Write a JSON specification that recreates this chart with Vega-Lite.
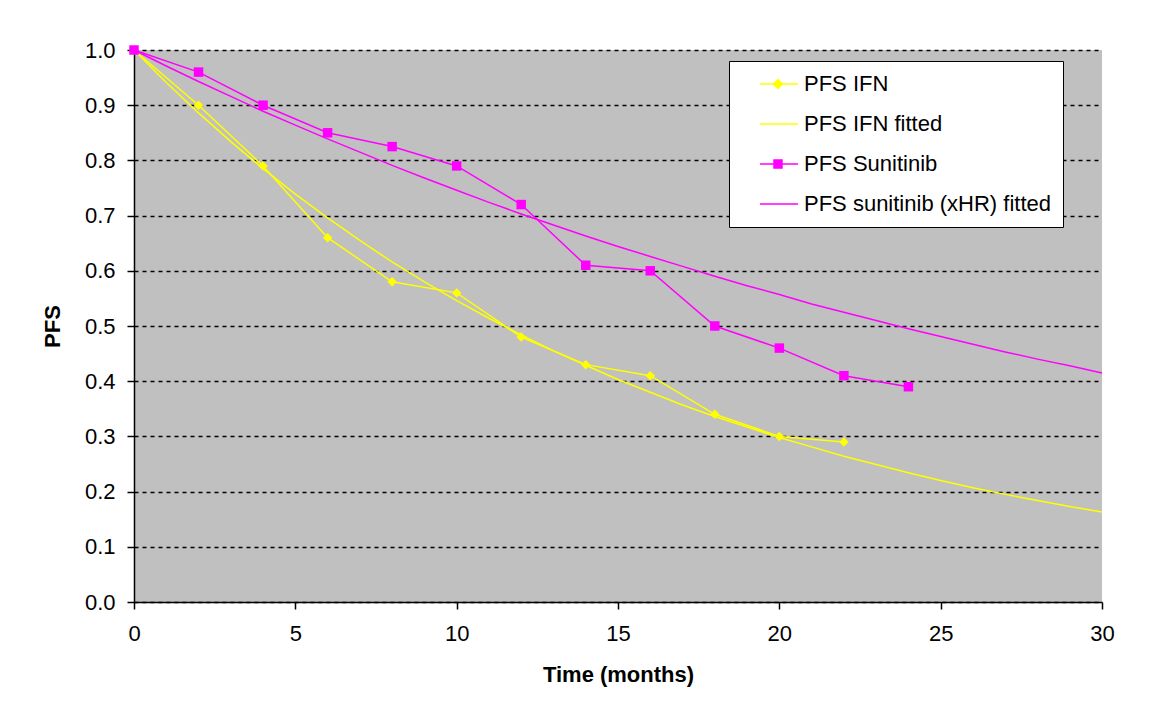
{
  "$schema": "https://vega.github.io/schema/vega-lite/v6.json",
  "width": 968,
  "height": 552,
  "autosize": {"type": "none"},
  "padding": {"left": 134, "top": 50, "right": 71, "bottom": 125},
  "background": "white",
  "config": {
    "view": {"fill": "#C0C0C0", "stroke": null},
    "font": "Liberation Sans",
    "axis": {
      "labelFont": "Liberation Sans",
      "titleFont": "Liberation Sans",
      "labelFontSize": 22,
      "titleFontSize": 22,
      "titleFontWeight": "bold",
      "labelColor": "black",
      "titleColor": "black",
      "domainColor": "black",
      "tickColor": "black",
      "tickSize": 7,
      "domainWidth": 1.5,
      "tickWidth": 1.5,
      "labelFlush": false
    }
  },
  "data": {
    "values": [
      {"series": "PFS IFN", "t": 0, "pfs": 1.0},
      {"series": "PFS IFN", "t": 2, "pfs": 0.9},
      {"series": "PFS IFN", "t": 4, "pfs": 0.79},
      {"series": "PFS IFN", "t": 6, "pfs": 0.66},
      {"series": "PFS IFN", "t": 8, "pfs": 0.58},
      {"series": "PFS IFN", "t": 10, "pfs": 0.56},
      {"series": "PFS IFN", "t": 12, "pfs": 0.48},
      {"series": "PFS IFN", "t": 14, "pfs": 0.43},
      {"series": "PFS IFN", "t": 16, "pfs": 0.41},
      {"series": "PFS IFN", "t": 18, "pfs": 0.34},
      {"series": "PFS IFN", "t": 20, "pfs": 0.30},
      {"series": "PFS IFN", "t": 22, "pfs": 0.29},
      {"series": "PFS Sunitinib", "t": 0, "pfs": 1.0},
      {"series": "PFS Sunitinib", "t": 2, "pfs": 0.96},
      {"series": "PFS Sunitinib", "t": 4, "pfs": 0.90},
      {"series": "PFS Sunitinib", "t": 6, "pfs": 0.85},
      {"series": "PFS Sunitinib", "t": 8, "pfs": 0.825},
      {"series": "PFS Sunitinib", "t": 10, "pfs": 0.79},
      {"series": "PFS Sunitinib", "t": 12, "pfs": 0.72},
      {"series": "PFS Sunitinib", "t": 14, "pfs": 0.61},
      {"series": "PFS Sunitinib", "t": 16, "pfs": 0.60},
      {"series": "PFS Sunitinib", "t": 18, "pfs": 0.50},
      {"series": "PFS Sunitinib", "t": 20, "pfs": 0.46},
      {"series": "PFS Sunitinib", "t": 22, "pfs": 0.41},
      {"series": "PFS Sunitinib", "t": 24, "pfs": 0.39},
      {"series": "PFS IFN fitted", "t": 0, "pfs": 1.0},
      {"series": "PFS IFN fitted", "t": 1, "pfs": 0.941},
      {"series": "PFS IFN fitted", "t": 2, "pfs": 0.886},
      {"series": "PFS IFN fitted", "t": 3, "pfs": 0.834},
      {"series": "PFS IFN fitted", "t": 4, "pfs": 0.785},
      {"series": "PFS IFN fitted", "t": 5, "pfs": 0.739},
      {"series": "PFS IFN fitted", "t": 6, "pfs": 0.696},
      {"series": "PFS IFN fitted", "t": 7, "pfs": 0.655},
      {"series": "PFS IFN fitted", "t": 8, "pfs": 0.616},
      {"series": "PFS IFN fitted", "t": 9, "pfs": 0.580},
      {"series": "PFS IFN fitted", "t": 10, "pfs": 0.546},
      {"series": "PFS IFN fitted", "t": 11, "pfs": 0.514},
      {"series": "PFS IFN fitted", "t": 12, "pfs": 0.484},
      {"series": "PFS IFN fitted", "t": 13, "pfs": 0.455},
      {"series": "PFS IFN fitted", "t": 14, "pfs": 0.429},
      {"series": "PFS IFN fitted", "t": 15, "pfs": 0.403},
      {"series": "PFS IFN fitted", "t": 16, "pfs": 0.380},
      {"series": "PFS IFN fitted", "t": 17, "pfs": 0.357},
      {"series": "PFS IFN fitted", "t": 18, "pfs": 0.336},
      {"series": "PFS IFN fitted", "t": 19, "pfs": 0.317},
      {"series": "PFS IFN fitted", "t": 20, "pfs": 0.298},
      {"series": "PFS IFN fitted", "t": 21, "pfs": 0.281},
      {"series": "PFS IFN fitted", "t": 22, "pfs": 0.264},
      {"series": "PFS IFN fitted", "t": 23, "pfs": 0.249},
      {"series": "PFS IFN fitted", "t": 24, "pfs": 0.234},
      {"series": "PFS IFN fitted", "t": 25, "pfs": 0.220},
      {"series": "PFS IFN fitted", "t": 26, "pfs": 0.207},
      {"series": "PFS IFN fitted", "t": 27, "pfs": 0.195},
      {"series": "PFS IFN fitted", "t": 28, "pfs": 0.184},
      {"series": "PFS IFN fitted", "t": 29, "pfs": 0.173},
      {"series": "PFS IFN fitted", "t": 30, "pfs": 0.163},
      {"series": "PFS sunitinib (xHR) fitted", "t": 0, "pfs": 1.0},
      {"series": "PFS sunitinib (xHR) fitted", "t": 1, "pfs": 0.971},
      {"series": "PFS sunitinib (xHR) fitted", "t": 2, "pfs": 0.943},
      {"series": "PFS sunitinib (xHR) fitted", "t": 3, "pfs": 0.916},
      {"series": "PFS sunitinib (xHR) fitted", "t": 4, "pfs": 0.889},
      {"series": "PFS sunitinib (xHR) fitted", "t": 5, "pfs": 0.864},
      {"series": "PFS sunitinib (xHR) fitted", "t": 6, "pfs": 0.839},
      {"series": "PFS sunitinib (xHR) fitted", "t": 7, "pfs": 0.815},
      {"series": "PFS sunitinib (xHR) fitted", "t": 8, "pfs": 0.791},
      {"series": "PFS sunitinib (xHR) fitted", "t": 9, "pfs": 0.768},
      {"series": "PFS sunitinib (xHR) fitted", "t": 10, "pfs": 0.746},
      {"series": "PFS sunitinib (xHR) fitted", "t": 11, "pfs": 0.724},
      {"series": "PFS sunitinib (xHR) fitted", "t": 12, "pfs": 0.703},
      {"series": "PFS sunitinib (xHR) fitted", "t": 13, "pfs": 0.683},
      {"series": "PFS sunitinib (xHR) fitted", "t": 14, "pfs": 0.663},
      {"series": "PFS sunitinib (xHR) fitted", "t": 15, "pfs": 0.644},
      {"series": "PFS sunitinib (xHR) fitted", "t": 16, "pfs": 0.626},
      {"series": "PFS sunitinib (xHR) fitted", "t": 17, "pfs": 0.608},
      {"series": "PFS sunitinib (xHR) fitted", "t": 18, "pfs": 0.590},
      {"series": "PFS sunitinib (xHR) fitted", "t": 19, "pfs": 0.573},
      {"series": "PFS sunitinib (xHR) fitted", "t": 20, "pfs": 0.557},
      {"series": "PFS sunitinib (xHR) fitted", "t": 21, "pfs": 0.540},
      {"series": "PFS sunitinib (xHR) fitted", "t": 22, "pfs": 0.525},
      {"series": "PFS sunitinib (xHR) fitted", "t": 23, "pfs": 0.510},
      {"series": "PFS sunitinib (xHR) fitted", "t": 24, "pfs": 0.495},
      {"series": "PFS sunitinib (xHR) fitted", "t": 25, "pfs": 0.481},
      {"series": "PFS sunitinib (xHR) fitted", "t": 26, "pfs": 0.467},
      {"series": "PFS sunitinib (xHR) fitted", "t": 27, "pfs": 0.453},
      {"series": "PFS sunitinib (xHR) fitted", "t": 28, "pfs": 0.440},
      {"series": "PFS sunitinib (xHR) fitted", "t": 29, "pfs": 0.428},
      {"series": "PFS sunitinib (xHR) fitted", "t": 30, "pfs": 0.415}
    ]
  },
  "encoding": {
    "x": {
      "field": "t",
      "type": "quantitative",
      "scale": {"domain": [0, 30], "nice": false},
      "axis": {
        "title": "Time (months)",
        "values": [0, 5, 10, 15, 20, 25, 30],
        "grid": false,
        "labelPadding": 14,
        "titlePadding": 20
      }
    },
    "y": {
      "field": "pfs",
      "type": "quantitative",
      "scale": {"domain": [0, 1], "nice": false},
      "axis": {
        "title": "PFS",
        "values": [0, 0.1, 0.2, 0.3, 0.4, 0.5, 0.6, 0.7, 0.8, 0.9, 1.0],
        "format": ".1f",
        "grid": true,
        "gridColor": "black",
        "gridDash": [4, 4],
        "gridWidth": 1.3,
        "labelPadding": 12,
        "titlePadding": 20
      }
    },
    "color": {
      "field": "series",
      "type": "nominal",
      "scale": {
        "domain": ["PFS IFN", "PFS IFN fitted", "PFS Sunitinib", "PFS sunitinib (xHR) fitted"],
        "range": ["#FFFF00", "#FFFF00", "#FF00FF", "#FF00FF"]
      },
      "legend": {
        "title": null,
        "orient": "none",
        "legendX": 595,
        "legendY": 11,
        "fillColor": "white",
        "strokeColor": "black",
        "padding": 12,
        "symbolOffset": 12,
        "labelOffset": 29,
        "rowPadding": 18,
        "labelFont": "Liberation Sans",
        "labelFontSize": 22,
        "labelColor": "black",
        "labelLimit": 400,
        "symbolSize": 400,
        "symbolStrokeWidth": 1.5,
        "encode": {
          "symbols": {
            "update": {
              "shape": {"signal": "datum.value === 'PFS IFN' ? 'M-0.4,0H3.4M1.4,-0.45L1.85,0L1.4,0.45L0.95,0Z' : (datum.value === 'PFS Sunitinib' ? 'M-0.4,0H3.4M1.0,-0.4H1.8V0.4H1.0Z' : 'M-0.4,0H3.4')"},
              "stroke": {"signal": "scale('color', datum.value)"},
              "fill": {"signal": "scale('color', datum.value)"},
              "opacity": {"value": 1}
            }
          }
        }
      }
    }
  },
  "layer": [
    {
      "mark": {"type": "line", "strokeWidth": 1.5},
      "encoding": {"detail": {"field": "series"}}
    },
    {
      "transform": [{"filter": {"field": "series", "oneOf": ["PFS IFN", "PFS Sunitinib"]}}],
      "mark": {"type": "point", "filled": true, "opacity": 1, "size": 90},
      "encoding": {
        "shape": {
          "field": "series",
          "type": "nominal",
          "scale": {"domain": ["PFS IFN", "PFS Sunitinib"], "range": ["diamond", "square"]},
          "legend": null
        }
      }
    }
  ]
}
